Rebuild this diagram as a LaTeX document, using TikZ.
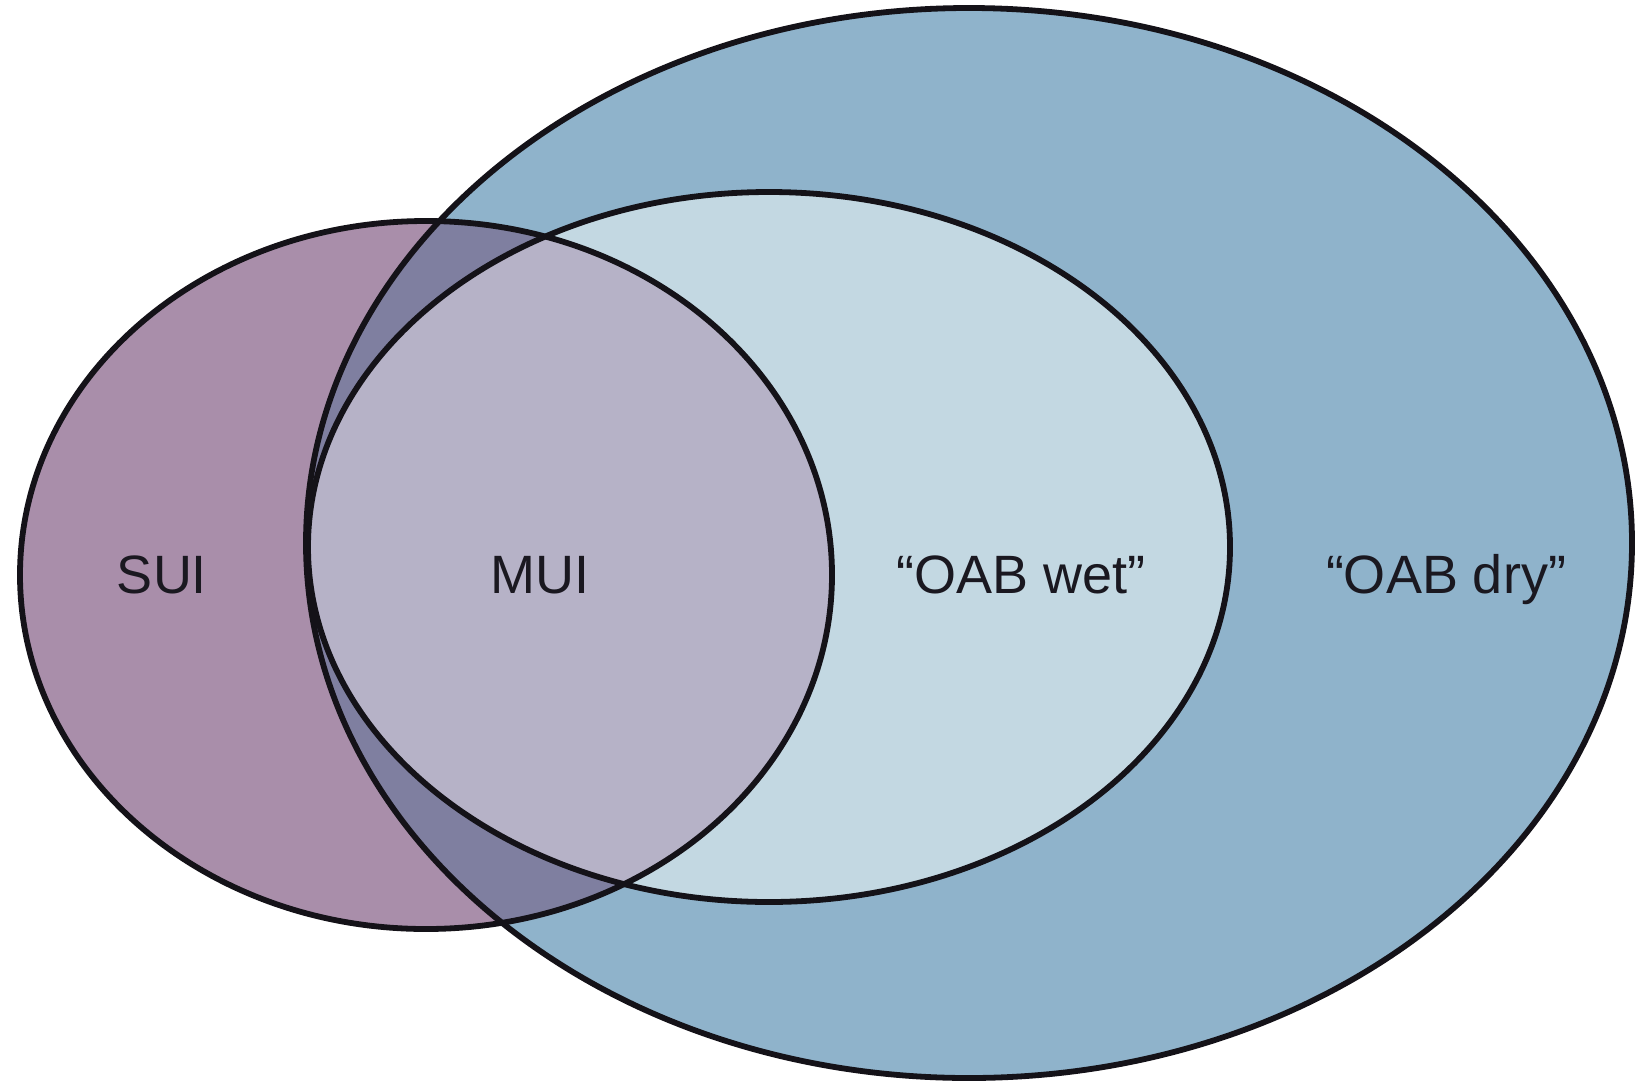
\documentclass[tikz,border=0pt]{standalone}
\usepackage{fontspec}
\setmainfont{Liberation Sans}
\definecolor{dryblue}{HTML}{8FB3CB}
\definecolor{wetblue}{HTML}{C3D8E2}
\definecolor{suipurple}{HTML}{A98EAA}
\definecolor{muilav}{HTML}{B6B2C7}
\definecolor{muidark}{HTML}{7F7FA0}
\definecolor{edge}{HTML}{141218}
\definecolor{ink}{HTML}{1A1820}
\tikzset{
  outline/.style={draw=edge, line width=5.8pt},
  lbl/.style={anchor=base, text=ink, inner sep=0pt, font=\fontsize{54}{64}\selectfont}
}
\begin{document}
\begin{tikzpicture}[x=1pt,y=-1pt]
\useasboundingbox (0,0) rectangle (1637,1082);
\def\bigell{(969,543) ellipse [x radius=663, y radius=535]}
\def\wetell{(769,547) ellipse [x radius=461, y radius=355]}
\def\suiell{(426,575) ellipse [x radius=406, y radius=354]}
% fills
\fill[dryblue] \bigell;
\fill[wetblue] \wetell;
\fill[suipurple] \suiell;
\begin{scope}
  \clip \suiell;
  \fill[muidark] \bigell;
  \clip \wetell;
  \fill[muilav] \wetell;
\end{scope}
% outlines
\draw[outline] \bigell;
\draw[outline] \wetell;
\draw[outline] \suiell;
% labels
\node[lbl] (sui) at (162,593) {SUI};
\node[lbl] (mui) at (540,593) {MUI};
\node[lbl] (wet) at (1021,593) {“OAB wet”};
\node[lbl] (dry) at (1446,593) {“OAB dry”};
\end{tikzpicture}
\end{document}
